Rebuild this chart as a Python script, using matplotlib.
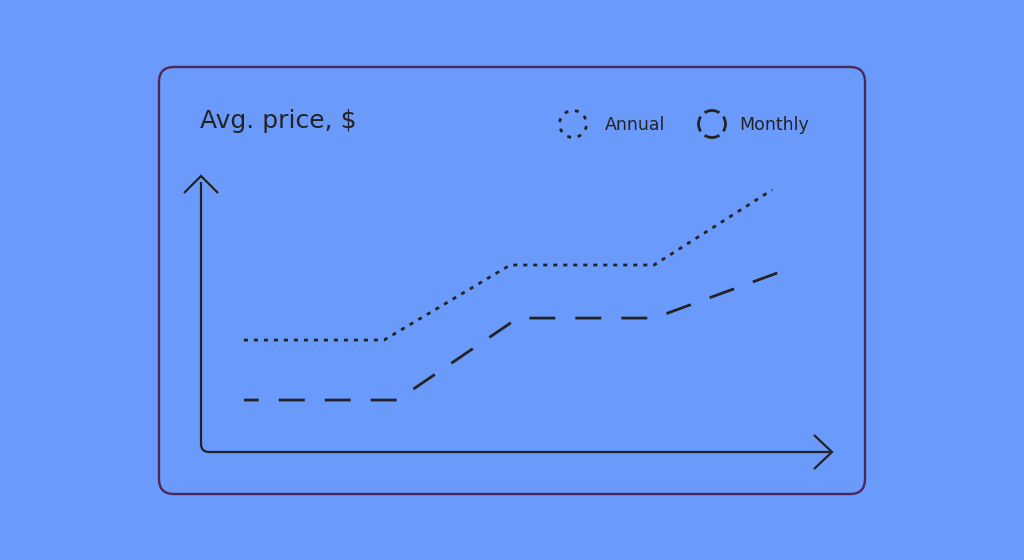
import matplotlib
matplotlib.use('Agg')
import matplotlib.pyplot as plt
from matplotlib.patches import FancyBboxPatch, Circle, PathPatch
from matplotlib.path import Path

# ------------------------------------------------------------------
# Data (x: time position 0-100, y: price index 0-100, no ticks shown)
# ------------------------------------------------------------------
annual_x = [6.8, 29.0, 49.0, 71.8, 90.5]
annual_y = [40.7, 40.7, 68.0, 68.0, 95.3]
monthly_x = [6.8, 31.1, 50.2, 71.8, 91.8]
monthly_y = [18.9, 18.9, 48.7, 48.7, 65.5]

title_text = 'Avg. price, $'
series_names = ['Annual', 'Monthly']

BG = '#6A9BFC'
INK = '#232323'
FRAME = '#4A2858'
W, H = 1024, 560

plt.rcParams['lines.scale_dashes'] = False
plt.rcParams['font.family'] = ['DejaVu Sans']

fig = plt.figure(figsize=(W / 100, H / 100), dpi=100, facecolor=BG)

# overlay in pixel coordinates for the decorations
deco = fig.add_axes([0, 0, 1, 1])
deco.set_xlim(0, W)
deco.set_ylim(H, 0)
deco.axis('off')

# rounded card frame
deco.add_patch(FancyBboxPatch((159, 67), 706, 427,
                              boxstyle='round,pad=0,rounding_size=15',
                              facecolor='none', edgecolor=FRAME, linewidth=1.7))

# axes with rounded origin
axis_path = Path([(201, 182), (201, 444), (201, 452), (209, 452), (830, 452)],
                 [Path.MOVETO, Path.LINETO, Path.CURVE3, Path.CURVE3, Path.LINETO])
deco.add_patch(PathPatch(axis_path, facecolor='none', edgecolor=INK, linewidth=1.6))
deco.plot([184, 201, 218], [193, 176, 193], color=INK, linewidth=1.6,
          solid_joinstyle='miter', solid_capstyle='butt')
deco.plot([814, 832, 814], [435, 452, 469], color=INK, linewidth=1.6,
          solid_joinstyle='miter', solid_capstyle='butt')

# title
deco.text(200, 121, title_text, fontsize=18, color=INK, ha='left', va='center')

# legend: dotted circle (8 dots) / dashed circle (4 arcs)
circ_pt = 2 * 3.14159 * 13.5 * 0.72
dot_period = circ_pt / 8
arc_period = circ_pt / 4
deco.add_patch(Circle((573, 124), 13.5, facecolor='none', edgecolor=INK, linewidth=2.0,
                      linestyle=(dot_period - 1.4, (2.8, dot_period - 2.8))))
deco.add_patch(Circle((712, 124), 13.5, facecolor='none', edgecolor=INK, linewidth=2.0,
                      linestyle=(5.6, (11.2, arc_period - 11.2))))
deco.text(605, 125, series_names[0], fontsize=12.5, color=INK, ha='left', va='center')
deco.text(739, 125, series_names[1], fontsize=12.5, color=INK, ha='left', va='center')

# data axes placed over the drawn axis lines
ax = fig.add_axes([201 / W, (H - 452) / H, 631 / W, 275 / H])
ax.set_xlim(0, 100)
ax.set_ylim(0, 100)
ax.axis('off')

ax.plot(annual_x, annual_y, color=INK, linewidth=2.0, linestyle=(0, (2.9, 4.3)),
        dash_capstyle='butt', label=series_names[0])
ax.plot(monthly_x, monthly_y, color=INK, linewidth=2.0, linestyle=(8.0, (18.7, 14.4)),
        dash_capstyle='butt', label=series_names[1])

fig.savefig('out.png', dpi=100, facecolor=BG)
plt.close(fig)
